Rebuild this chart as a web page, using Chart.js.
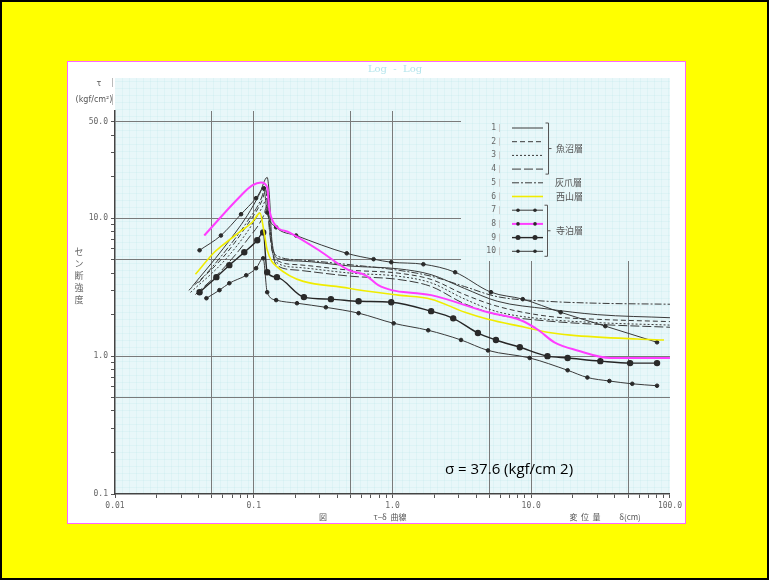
<!DOCTYPE html>
<html>
<head>
<meta charset="utf-8">
<script src="https://cdn.jsdelivr.net/npm/chart.js@4"></script>
<style>
  html, body { margin: 0; padding: 0; }
  body { width: 769px; height: 580px; overflow: hidden; }
  #slide { position: relative; width: 769px; height: 580px; box-sizing: border-box; border: 2px solid #000; background: #ffff00; }
  #panel { position: absolute; left: 65px; top: 59px; width: 617px; height: 461px; background: #fff; border: 1px solid #ff66ff; }
  #wrap { position: relative; width: 617px; height: 461px; }
</style>
</head>
<body>
<div id="slide">
  <div id="panel">
    <div id="wrap"><canvas id="tauChart"></canvas></div>
  </div>
</div>
<script>
// series values (x = displacement cm, y = shear stress kgf/cm2)
const seriesNames = ['1', '2', '3', '4', '5', '6', '7', '8', '9', '10'];

const s1x = [0.036, 0.06, 0.09, 0.11, 0.125, 0.13, 0.135, 0.15, 0.21, 0.5, 1.1, 1.9, 3.3, 5.7, 13, 30, 100];
const s1y = [3.2, 6.0, 10.5, 15, 19.8, 14, 7, 5.1, 4.9, 4.5, 4.3, 3.9, 3.1, 2.5, 2.2, 2.0, 1.9];

const s2x = [0.034, 0.06, 0.09, 0.115, 0.122, 0.128, 0.135, 0.15, 0.21, 0.5, 1.1, 1.9, 3.3, 5.7, 13, 30, 100];
const s2y = [3.0, 5.2, 9, 13.5, 16, 10, 6, 4.9, 4.6, 4.2, 4.0, 3.6, 2.8, 2.3, 1.95, 1.85, 1.78];

const s3x = [0.035, 0.06, 0.09, 0.115, 0.125, 0.13, 0.138, 0.15, 0.21, 0.5, 1.1, 1.9, 3.3, 5.7, 13, 30, 100];
const s3y = [2.9, 4.8, 8, 12, 14, 9, 5.5, 4.7, 4.4, 4.0, 3.8, 3.4, 2.6, 2.1, 1.85, 1.75, 1.68];

const s4x = [0.038, 0.06, 0.09, 0.118, 0.125, 0.13, 0.14, 0.15, 0.21, 0.5, 1.1, 1.9, 3.3, 5.7, 13, 30, 100];
const s4y = [2.8, 4.3, 7, 10.5, 12.5, 8, 5, 4.5, 4.2, 3.8, 3.6, 3.2, 2.4, 2.0, 1.8, 1.7, 1.62];

const s5x = [0.04, 0.06, 0.09, 0.115, 0.12, 0.127, 0.135, 0.15, 0.21, 0.5, 1.1, 1.9, 3.3, 5.7, 13, 30, 100];
const s5y = [3.4, 5.5, 9.5, 14.5, 17, 12, 6.5, 5.3, 5.0, 4.6, 4.2, 3.8, 3.2, 2.7, 2.5, 2.42, 2.38];

const s6x = [0.038, 0.052, 0.0585, 0.0787, 0.0975, 0.111, 0.119, 0.125, 0.145, 0.484, 1.10, 1.90, 3.33, 4.88, 8.97, 13.1, 19.2, 58, 90.6];
const s6y = [3.93, 5.67, 6.27, 7.92, 9.35, 10.9, 7.8, 5.9, 4.5, 3.11, 2.77, 2.59, 2.08, 1.85, 1.62, 1.49, 1.42, 1.33, 1.31];

const s7x = [0.0407, 0.058, 0.081, 0.104, 0.118, 0.125, 0.145, 0.202, 0.468, 0.731, 0.98, 1.67, 2.83, 5.13, 8.69, 16.3, 34.2, 80.7];
const s7y = [5.86, 7.5, 10.7, 14, 16.5, 11, 8.6, 7.5, 5.57, 5.05, 4.80, 4.64, 4.06, 2.91, 2.59, 2.08, 1.65, 1.26];

const s8x = [0.044, 0.0787, 0.0975, 0.113, 0.125, 0.129, 0.140, 0.180, 0.295, 0.484, 0.64, 0.79, 1.0, 1.5, 1.9, 4.88, 8.4, 11.1, 14.7, 21.5, 37.2, 100];
const s8y = [7.5, 14.2, 17.3, 18.2, 16.8, 12.0, 9.2, 7.9, 5.86, 4.2, 3.86, 3.27, 3.0, 2.86, 2.77, 2.08, 1.82, 1.56, 1.26, 1.10, 0.97, 0.97];

const s9x = [0.0407, 0.0538, 0.0667, 0.0855, 0.106, 0.117, 0.125, 0.147, 0.230, 0.360, 0.57, 0.98, 1.90, 2.74, 4.13, 5.57, 8.28, 13.1, 18.3, 31.5, 51.6, 80.7];
const s9y = [2.91, 3.74, 4.57, 5.67, 6.93, 7.9, 4.06, 3.74, 2.68, 2.59, 2.50, 2.46, 2.12, 1.88, 1.47, 1.31, 1.16, 1.0, 0.97, 0.92, 0.89, 0.89];

const s10x = [0.0456, 0.0566, 0.0667, 0.0883, 0.104, 0.117, 0.125, 0.145, 0.205, 0.331, 0.57, 1.02, 1.81, 3.12, 4.88, 9.75, 18.3, 25.4, 36.6, 53.5, 80.7];
const s10y = [2.63, 3.01, 3.38, 3.86, 4.34, 5.13, 2.91, 2.55, 2.42, 2.26, 2.05, 1.73, 1.54, 1.31, 1.10, 0.97, 0.79, 0.70, 0.66, 0.63, 0.61];

// axis labels / grid
const xTickValues = [0.01, 0.1, 1, 10, 100];
const xTickLabels = ['0.01', '0.1', '1.0', '10.0', '100.0'];
const yTickValues = [0.1, 1, 10, 50];
const yTickLabels = ['0.1', '1.0', '10.0', '50.0'];
const xGridValues = [0.05, 0.1, 0.5, 1, 5, 10, 50];
const yGridValues = [0.5, 1, 5, 10, 50];
const groupNames = ['魚沼層', '灰爪層', '西山層', '寺泊層'];
const sigmaNote = 'σ = 37.6 (kgf/cm 2)';

function pts(xs, ys) {
  return xs.map(function(x, i) { return { x: x, y: ys[i] }; });
}

function near(v, list) {
  return list.findIndex(function(t) { return Math.abs(Math.log10(v) - Math.log10(t)) < 1e-6; });
}

// 1..9 ticks of each decade
function decadeTicks(lo, hi) {
  var out = [];
  for (var d = lo; d < hi * 1.0001; d *= 10) {
    for (var k = 1; k <= 9; k++) {
      var v = Number((d * k).toPrecision(6));
      if (v <= hi * 1.0001) out.push({ value: v });
    }
  }
  return out;
}

function blackSeries(i, xs, ys, dash, extra) {
  return Object.assign({
    label: seriesNames[i],
    data: pts(xs, ys),
    borderColor: '#3a3a3a',
    borderWidth: 1,
    borderDash: dash,
    pointRadius: 0,
    pointBackgroundColor: '#2a2a2a',
    pointBorderColor: '#2a2a2a',
    showLine: true,
    cubicInterpolationMode: 'monotone',
    order: 3
  }, extra || {});
}

const datasets = [
  blackSeries(0, s1x, s1y, []),
  blackSeries(1, s2x, s2y, [5, 3]),
  blackSeries(2, s3x, s3y, [2, 2]),
  blackSeries(3, s4x, s4y, [9, 3]),
  blackSeries(4, s5x, s5y, [7, 2, 2, 2]),
  blackSeries(5, s6x, s6y, [], { borderColor: '#f0ec00', borderWidth: 1.6, order: 1 }),
  blackSeries(6, s7x, s7y, [], { pointRadius: 1.8, order: 2 }),
  blackSeries(7, s8x, s8y, [], { borderColor: '#ff3dff', borderWidth: 2, order: 0, legendDot: 1.8 }),
  blackSeries(8, s9x, s9y, [], { borderColor: '#262626', borderWidth: 1.4, pointRadius: 2.5, order: 2 }),
  blackSeries(9, s10x, s10y, [], { pointRadius: 1.8, order: 2 })
];

const paperColor = '#e8f7f9';
const paperLine = 'rgba(150,210,222,0.12)';

const panelDeco = {
  id: 'panelDeco',
  beforeDraw: function(chart) {
    var ctx = chart.ctx, a = chart.chartArea;
    ctx.save();
    ctx.fillStyle = paperColor;
    ctx.fillRect(a.left, 16, a.right - a.left, a.bottom - 16);
    // faint graph paper
    ctx.strokeStyle = paperLine;
    ctx.lineWidth = 1;
    ctx.beginPath();
    for (var x = a.left + 7.5; x < a.right; x += 7) { ctx.moveTo(x, 16); ctx.lineTo(x, a.bottom); }
    for (var y = a.bottom - 6.5; y > 16; y -= 7) { ctx.moveTo(a.left, y); ctx.lineTo(a.right, y); }
    ctx.stroke();
    ctx.restore();
  },
  beforeDatasetsDraw: function(chart) {
    var ctx = chart.ctx, a = chart.chartArea;
    ctx.save();
    // legend area hides the grid lines
    ctx.fillStyle = paperColor;
    ctx.fillRect(393, 17, a.right - 393, 182);
    ctx.strokeStyle = paperLine;
    ctx.lineWidth = 1;
    ctx.beginPath();
    for (var x = a.left + 7.5; x < a.right; x += 7) { if (x > 393) { ctx.moveTo(x, 17); ctx.lineTo(x, 199); } }
    for (var y = a.bottom - 6.5; y > 17; y -= 7) { if (y < 199) { ctx.moveTo(393, y); ctx.lineTo(a.right, y); } }
    ctx.stroke();

    var rowY = function(i) { return 66 + i * 13.7; };
    ctx.font = '8px "DejaVu Sans Mono"';
    ctx.textAlign = 'right';
    ctx.textBaseline = 'middle';
    chart.data.datasets.forEach(function(ds, i) {
      var y = rowY(i);
      ctx.fillStyle = '#666';
      ctx.fillText(ds.label, 428, y);
      ctx.fillStyle = '#ccc';
      ctx.fillRect(431, y - 4, 1, 8);
      ctx.setLineDash(ds.borderDash || []);
      ctx.strokeStyle = ds.borderColor;
      ctx.lineWidth = ds.borderWidth;
      ctx.beginPath();
      ctx.moveTo(444, y);
      ctx.lineTo(475, y);
      ctx.stroke();
      ctx.setLineDash([]);
      var r = ds.pointRadius || ds.legendDot || 0;
      if (r > 0) {
        ctx.fillStyle = '#2a2a2a';
        [450, 467].forEach(function(px) {
          ctx.beginPath();
          ctx.arc(px, y, r, 0, Math.PI * 2);
          ctx.fill();
        });
      }
    });

    // braces and formation names
    ctx.strokeStyle = '#555';
    ctx.lineWidth = 1;
    var brace = function(x, y0, y1) {
      var m = (y0 + y1) / 2;
      ctx.beginPath();
      ctx.moveTo(x - 3, y0); ctx.lineTo(x, y0); ctx.lineTo(x, y1); ctx.lineTo(x - 3, y1);
      ctx.moveTo(x, m); ctx.lineTo(x + 3, m);
      ctx.stroke();
      return m;
    };
    var m1 = brace(480.5, rowY(0) - 5, rowY(3) + 5);
    var m2 = brace(479.5, rowY(6) - 5, rowY(9) + 5);
    ctx.font = '9px "Noto Sans CJK JP"';
    ctx.fillStyle = '#555';
    ctx.textAlign = 'left';
    ctx.fillText(groupNames[0], 488, m1);
    ctx.fillText(groupNames[1], 487, rowY(4));
    ctx.fillText(groupNames[2], 488, rowY(5));
    ctx.fillText(groupNames[3], 488, m2);
    ctx.restore();
  },
  afterDraw: function(chart) {
    var ctx = chart.ctx;
    ctx.save();
    ctx.textBaseline = 'middle';
    ctx.textAlign = 'center';
    ctx.fillStyle = '#b3e4ec';
    ctx.font = '10px "DejaVu Serif"';
    ctx.fillText('Log  -  Log', 327, 7);

    ctx.fillStyle = '#555';
    ctx.font = '8px "DejaVu Sans"';
    ctx.fillText('τ', 31, 22);
    ctx.fillText('(kgf/cm²)', 26, 38);
    ctx.fillStyle = '#bbb';
    ctx.fillRect(44, 16, 1, 9);
    ctx.fillRect(44, 32, 1, 11);

    ctx.fillStyle = '#666';
    ctx.font = '9px "Noto Sans CJK JP"';
    Array.from('セン断強度').forEach(function(ch, i) {
      ctx.fillText(ch, 11, 190 + i * 12);
    });

    ctx.fillStyle = '#555';
    ctx.font = '8px "Noto Sans CJK JP"';
    ctx.fillText('図', 255, 455);
    ctx.fillText('τ−δ  曲線', 322, 455);
    ctx.fillText('変  位  量', 517, 455);
    ctx.fillText('δ(cm)', 562, 455);

    ctx.fillStyle = '#000';
    ctx.textAlign = 'left';
    ctx.font = '15px "Open Sans"';
    ctx.fillText(sigmaNote, 377, 408);
    ctx.restore();
  }
};

const canvas = document.getElementById('tauChart');
new Chart(canvas.getContext('2d'), {
  type: 'scatter',
  data: { datasets: datasets },
  options: {
    responsive: true,
    maintainAspectRatio: false,
    animation: false,
    layout: { autoPadding: false, padding: { top: 49, right: 12, left: 0, bottom: 0 } },
    plugins: { legend: { display: false }, tooltip: { enabled: false } },
    scales: {
      x: {
        type: 'logarithmic',
        min: 0.01,
        max: 100,
        afterBuildTicks: function(s) { s.ticks = decadeTicks(0.01, 100); },
        afterFit: function(s) { s.height = 29; },
        grid: {
          color: function(c) { return c.tick && near(c.tick.value, xGridValues) >= 0 ? '#7a7a7a' : 'rgba(0,0,0,0)'; },
          tickColor: '#555',
          tickLength: 4
        },
        border: { color: '#444', width: 1.5 },
        ticks: {
          autoSkip: false,
          maxRotation: 0,
          padding: 3,
          color: '#666',
          font: { family: 'DejaVu Sans Mono', size: 8 },
          callback: function(v) { var i = near(v, xTickValues); return i >= 0 ? xTickLabels[i] : ''; }
        }
      },
      y: {
        type: 'logarithmic',
        min: 0.1,
        max: 60,
        afterBuildTicks: function(s) { s.ticks = decadeTicks(0.1, 50); },
        afterFit: function(s) { s.width = 47; },
        grid: {
          color: function(c) { return c.tick && near(c.tick.value, yGridValues) >= 0 ? '#7a7a7a' : 'rgba(0,0,0,0)'; },
          tickColor: '#555',
          tickLength: 4
        },
        border: { color: '#444', width: 1.5 },
        ticks: {
          autoSkip: false,
          padding: 3,
          color: '#666',
          font: { family: 'DejaVu Sans Mono', size: 8 },
          callback: function(v) { var i = near(v, yTickValues); return i >= 0 ? yTickLabels[i] : ''; }
        }
      }
    }
  },
  plugins: [panelDeco]
});
</script>
</body>
</html>
